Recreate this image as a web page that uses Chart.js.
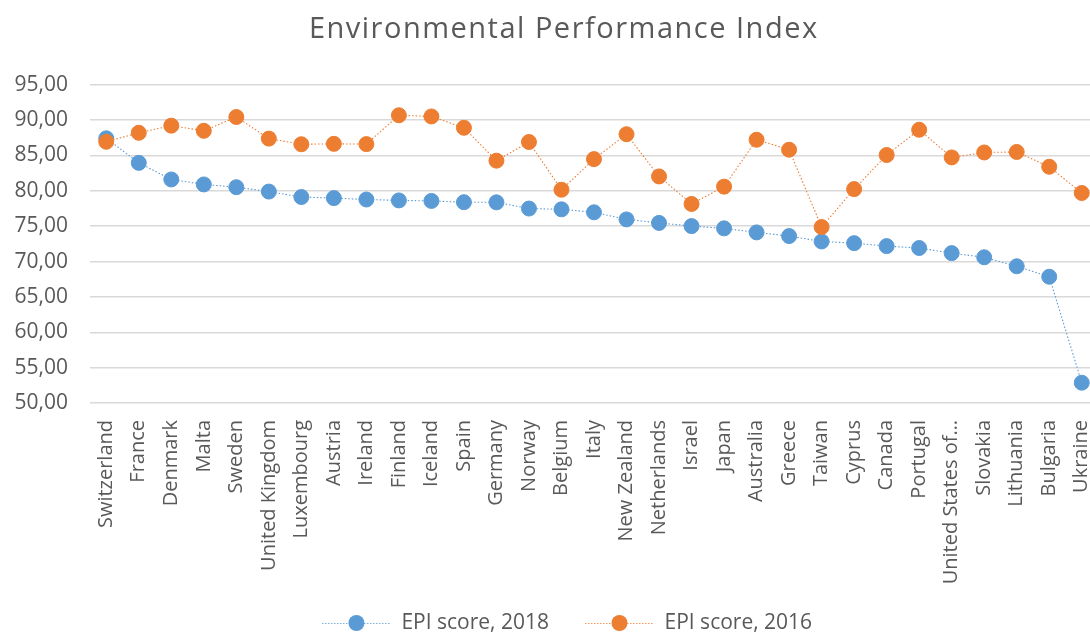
<!DOCTYPE html>
<html>
<head>
<meta charset="utf-8">
<script src="https://cdn.jsdelivr.net/npm/chart.js@4.4.1/dist/chart.umd.min.js"></script>
<style>
  html, body { margin: 0; padding: 0; background: #ffffff; overflow: hidden; width: 1090px; height: 632px; }
  #wrap { width: 1126px; height: 632px; }
</style>
</head>
<body>
<div id="wrap"><canvas id="c" width="1126" height="632"></canvas></div>
<script>
const categories = ["Switzerland","France","Denmark","Malta","Sweden","United Kingdom","Luxembourg","Austria","Ireland","Finland","Iceland","Spain","Germany","Norway","Belgium","Italy","New Zealand","Netherlands","Israel","Japan","Australia","Greece","Taiwan","Cyprus","Canada","Portugal","United States of…","Slovakia","Lithuania","Bulgaria","Ukraine"];
const epi2018 = [87.42,83.95,81.60,80.90,80.51,79.89,79.12,78.97,78.77,78.64,78.57,78.39,78.37,77.49,77.38,76.96,75.96,75.46,75.01,74.69,74.12,73.60,72.84,72.60,72.18,71.91,71.19,70.60,69.33,67.85,52.87];
const epi2016 = [86.93,88.20,89.21,88.48,90.43,87.38,86.58,86.64,86.60,90.68,90.51,88.91,84.26,86.90,80.15,84.48,88.00,82.03,78.14,80.59,87.22,85.81,74.88,80.24,85.06,88.63,84.72,85.42,85.49,83.40,79.69];
const seriesNames = ["EPI score, 2018", "EPI score, 2016"];
const titleText = "Environmental Performance Index";
const yTicks = { min: 50, max: 95, step: 5 };

const BLUE = "#5B9BD5";
const ORANGE = "#ED7D31";
const TEXT = "#595959";
const FONT = "'Open Sans', sans-serif";

function legendMarker(color) {
  const cv = document.createElement("canvas");
  cv.width = 69; cv.height = 20;
  const g = cv.getContext("2d");
  g.strokeStyle = color;
  g.globalAlpha = 0.8;
  g.lineWidth = 1;
  g.setLineDash([1.5, 1.5]);
  g.beginPath(); g.moveTo(0, 10.5); g.lineTo(69, 10.5); g.stroke();
  g.globalAlpha = 1;
  g.setLineDash([]);
  g.fillStyle = color;
  g.beginPath(); g.arc(34.5, 10, 8, 0, Math.PI * 2); g.fill();
  return cv;
}
const markers = [legendMarker(BLUE), legendMarker(ORANGE)];

function noLabelClip(scale) { scale._computeLabelArea = () => undefined; }

const spacedTitle = {
  id: "spacedTitle",
  afterLayout(chart) {
    if (chart.legend) { chart.legend.left += 4; chart.legend.right += 4; }
  },
  afterDraw(chart) {
    const tb = chart.titleBlock;
    if (!tb) return;
    const ctx = chart.ctx;
    ctx.save();
    ctx.font = "normal 29px 'Open Sans', sans-serif";
    ctx.fillStyle = TEXT;
    ctx.textAlign = "center";
    ctx.textBaseline = "middle";
    if ("letterSpacing" in ctx) ctx.letterSpacing = "1.5px";
    const cx = (tb.left + tb.right) / 2 + 0.75;
    const cy = tb.top + 13.8 + 16.2;
    ctx.fillText(titleText, cx, cy);
    ctx.restore();
  }
};

new Chart(document.getElementById("c"), {
  type: "line",
  data: {
    labels: categories,
    datasets: [
      {
        label: seriesNames[0], data: epi2018, order: 1,
        borderColor: BLUE, backgroundColor: BLUE, borderWidth: 1.1, borderDash: [1.5, 2],
        pointRadius: 7.5, pointHoverRadius: 7.5, pointBackgroundColor: BLUE, pointBorderColor: BLUE, pointBorderWidth: 1,
        tension: 0, fill: false
      },
      {
        label: seriesNames[1], data: epi2016, order: 0,
        borderColor: ORANGE, backgroundColor: ORANGE, borderWidth: 1.1, borderDash: [1.5, 2],
        pointRadius: 7.5, pointHoverRadius: 7.5, pointBackgroundColor: ORANGE, pointBorderColor: ORANGE, pointBorderWidth: 1,
        tension: 0, fill: false
      }
    ]
  },
  plugins: [spacedTitle],
  options: {
    responsive: false,
    animation: false,
    devicePixelRatio: 1,
    layout: { padding: { left: 28, right: 28, top: 0, bottom: -11.5 } },
    plugins: {
      tooltip: { enabled: false },
      title: {
        display: true, text: titleText, color: "rgba(0,0,0,0)",
        font: { family: FONT, size: 27, weight: "normal" },
        padding: { top: 13.8, bottom: 38.5 }
      },
      legend: {
        position: "bottom",
        labels: {
          color: TEXT,
          font: { family: FONT, size: 21 },
          usePointStyle: true,
          pointStyleWidth: 69,
          padding: 36,
          generateLabels(chart) {
            return chart.data.datasets.map((ds, i) => ({
              text: ds.label, fillStyle: ds.backgroundColor, strokeStyle: ds.borderColor,
              lineWidth: 0, pointStyle: markers[i], hidden: false, datasetIndex: i, fontColor: TEXT
            }));
          }
        }
      }
    },
    scales: {
      x: {
        offset: true,
        grid: { display: false, drawTicks: false },
        border: { display: false },
        ticks: {
          color: TEXT, font: { family: FONT, size: 20 },
          minRotation: 90, maxRotation: 90, autoSkip: false, padding: 17
        },
        afterFit(scale) { scale.height = 173.5; },
        afterUpdate: noLabelClip
      },
      y: {
        min: yTicks.min, max: yTicks.max,
        grid: { color: "#D9D9D9", lineWidth: 1.5, drawTicks: false },
        border: { display: false },
        ticks: {
          stepSize: yTicks.step, color: TEXT, font: { family: FONT, size: 21 }, padding: 22,
          callback: (v) => v.toFixed(2).replace(".", ",")
        },
        afterFit(scale) { scale.width = 62; },
        afterUpdate: noLabelClip
      }
    }
  }
});
</script>
</body>
</html>
